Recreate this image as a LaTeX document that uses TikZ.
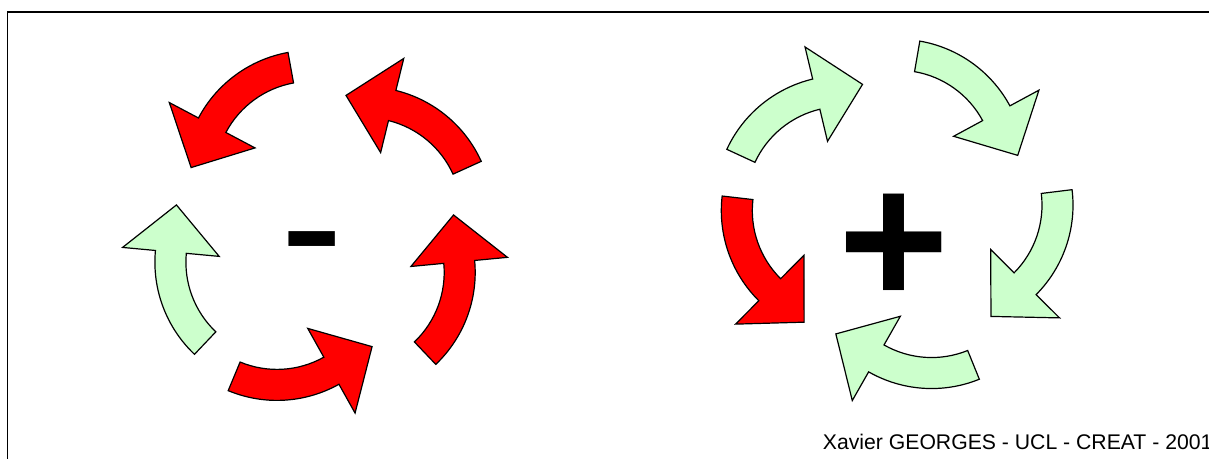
\documentclass[tikz,border=0pt]{standalone}
\usepackage{fontspec}
\setmainfont{Liberation Sans}
\usepackage{tikz}
\usetikzlibrary{calc}
\definecolor{loopred}{RGB}{255,0,0}
\definecolor{loopgreen}{RGB}{204,255,204}

\begin{document}
\begin{tikzpicture}[x=1pt,y=1pt]
    \useasboundingbox (0,0) rectangle (1209,459);
    \coordinate (TR) at (1209,447);
    \coordinate (TL) at (7.5,447);
    \coordinate (BL) at (7.5,0);
    \draw[line width=1.3pt] (TR) -- (TL) -- (BL);
    \foreach \cx/\cy/\ta/\dir/\col in {
        310.7/281.6/100.3/1/loopred, 365.6/245.2/24.4/1/loopred,
        348.2/186.6/-46.4/1/loopred, 277/185.6/247.4/1/loopred,
        281.9/196.8/226.5/-1/loopgreen,
        842.1/256.4/155.2/-1/loopgreen, 898.2/292.75/80.2/-1/loopgreen,
        946/253.85/7.0/-1/loopgreen, 931.55/197.45/-67.9/-1/loopgreen,
        848.3/248.4/173.4/1/loopred} {
      \pgfmathsetmacro{\ja}{\ta+\dir*51.8}
      \pgfmathsetmacro{\pa}{\ja+\dir*23.2}
      \draw[line width=1.2pt, fill=\col, shift={(\cx,\cy)}]
        (\ta:127) arc[start angle=\ta, end angle=\ja, radius=127]
        -- (\ja:160) -- (\pa:120) -- (\ja:63) -- (\ja:96)
        arc[start angle=\ja, end angle=\ta, radius=96] -- cycle;
    }
    \node[inner sep=0pt, font=\bfseries\fontsize{190}{190}\selectfont] (plus) at (894.3,209) {+};
    \node[inner sep=0pt, font=\fontsize{190}{190}\selectfont] (minus) at (312.3,198.5) {-};
    \node[anchor=base west, inner sep=0pt, font=\fontsize{21.2}{21.2}\selectfont] (credit) at (822.7,9.7) {Xavier GEORGES - UCL - CREAT - 2001};
\end{tikzpicture}
\end{document}
